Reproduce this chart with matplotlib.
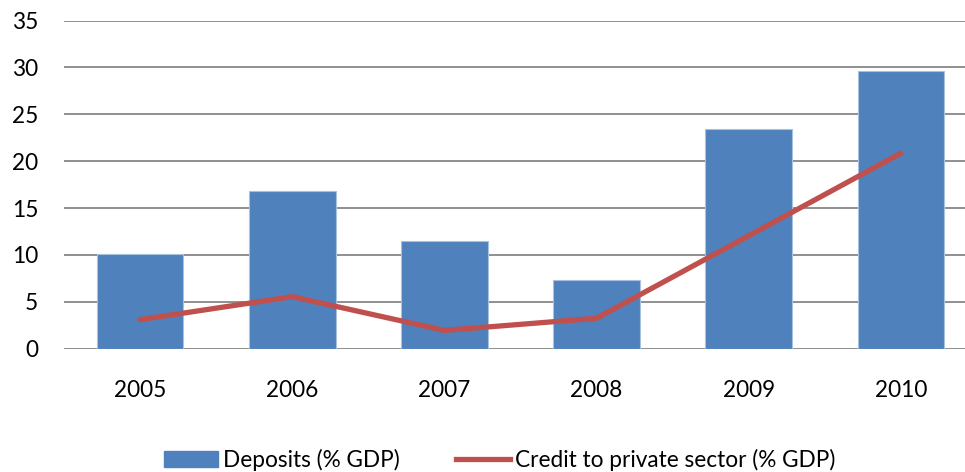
import numpy as np
import matplotlib
matplotlib.use('Agg')
import matplotlib.pyplot as plt
from matplotlib.patches import Patch
from matplotlib.lines import Line2D

years = ['2005', '2006', '2007', '2008', '2009', '2010']
deposits = [10.1, 16.8, 11.5, 7.3, 23.4, 29.6]
credit = [3.1, 5.55, 1.95, 3.25, 12.05, 20.85]
y_ticks = [0, 5, 10, 15, 20, 25, 30, 35]

bar_color = '#4F81BD'
line_color = '#C0504D'
grid_color = '#878787'
fs = 16.3

plt.rcParams['font.family'] = ['Lato', 'DejaVu Sans']

fig = plt.figure(figsize=(9.65, 4.72), dpi=100)
# plot area runs a little past the right edge of the figure
ax = fig.add_axes([64 / 965, 0.2612, 913 / 965, 0.6952])

x = np.arange(len(years))

# horizontal grid behind the bars
for t in y_ticks:
    ax.axhline(t, color=grid_color, linewidth=1.3, zorder=1)

ax.bar(x, deposits, width=0.57, color=bar_color, edgecolor='#A9C1E0',
       linewidth=0.8, zorder=2)
ax.plot(x, credit, color=line_color, linewidth=3.8, solid_capstyle='round',
        solid_joinstyle='round', zorder=3)

ax.set_xlim(-0.5, len(years) - 0.5)
ax.set_ylim(0, 35)
ax.set_xticks(x)
ax.set_xticklabels(years)
ax.set_yticks(y_ticks)
ax.set_yticklabels([str(t) for t in y_ticks])
ax.tick_params(axis='both', length=0, labelsize=fs, colors='black')
ax.tick_params(axis='y', pad=18.5)
ax.tick_params(axis='x', pad=22.5)
for s in ax.spines.values():
    s.set_visible(False)

handles = [
    Patch(facecolor=bar_color, edgecolor=bar_color, label='Deposits (% GDP)'),
    Line2D([0], [0], color=line_color, linewidth=3.8, label='Credit to private sector (% GDP)'),
]
fig.legend(handles=handles, loc='center', bbox_to_anchor=(0.5176, 0.0254),
           ncol=2, frameon=False, fontsize=fs, handlelength=2.4,
           handleheight=0.68, handletextpad=0.2, columnspacing=2.5,
           borderpad=0, borderaxespad=0)

fig.savefig('out.png', dpi=100)
